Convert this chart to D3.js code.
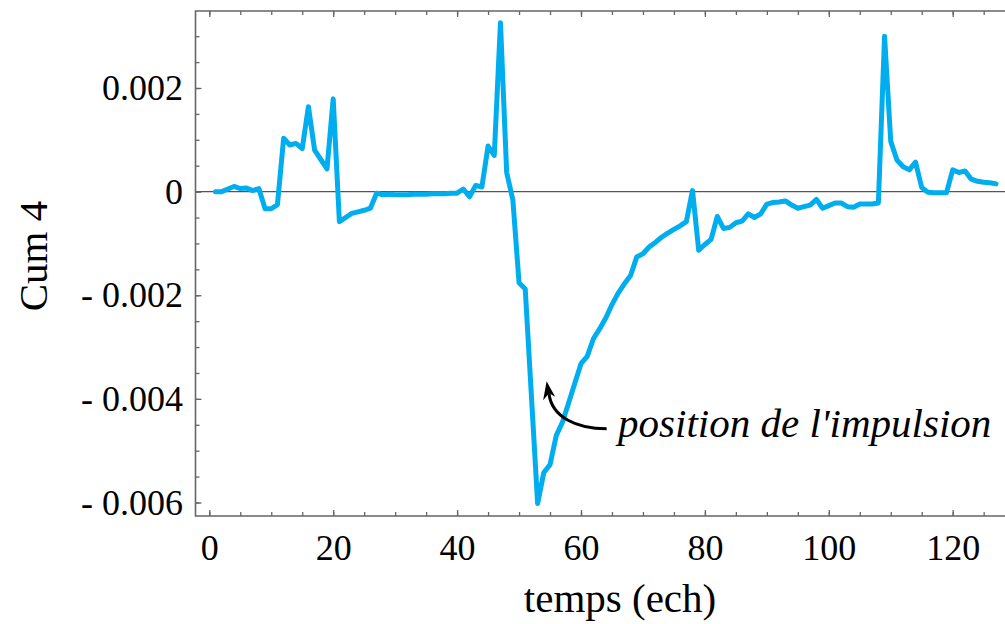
<!DOCTYPE html>
<html>
<head>
<meta charset="utf-8">
<script src="https://cdn.jsdelivr.net/npm/d3@7"></script>
<style>
  body { margin: 0; background: #fff; }
  svg text { font-family: "Liberation Serif", "DejaVu Serif", serif; fill: #000; }
</style>
</head>
<body>
<div id="chart"></div>
<script>
// sample index (ech)
var temps = d3.range(1, 128);

// 4th order cumulant
var cum4 = [
  0.00000, 0.00000, 0.00005, 0.00010, 0.00006, 0.00007, 0.00002, 0.00006, -0.00033, -0.00033,
  -0.00025, 0.00103, 0.00090, 0.00093, 0.00083, 0.00164, 0.00080, 0.00062, 0.00044, 0.00179,
  -0.00058, -0.00050, -0.00042, -0.00039, -0.00036, -0.00032, -0.00003, -0.00006, -0.00005, -0.00006,
  -0.00006, -0.00006, -0.00005, -0.00005, -0.00005, -0.00004, -0.00004, -0.00004, -0.00003, -0.00003,
  0.00005, -0.00010, 0.00012, 0.00009, 0.00088, 0.00070, 0.00326, 0.00037, -0.00016, -0.00176,
  -0.00188, -0.00395, -0.00602, -0.00542, -0.00527, -0.00471, -0.00445, -0.00408, -0.00370, -0.00332,
  -0.00318, -0.00284, -0.00265, -0.00244, -0.00218, -0.00196, -0.00178, -0.00162, -0.00126, -0.00120,
  -0.00107, -0.00098, -0.00088, -0.00080, -0.00073, -0.00066, -0.00058, 0.00002, -0.00113, -0.00102,
  -0.00092, -0.00048, -0.00071, -0.00069, -0.00060, -0.00057, -0.00043, -0.00050, -0.00043, -0.00024,
  -0.00021, -0.00020, -0.00018, -0.00026, -0.00032, -0.00029, -0.00026, -0.00015, -0.00032, -0.00027,
  -0.00022, -0.00022, -0.00029, -0.00030, -0.00024, -0.00024, -0.00024, -0.00022, 0.00300, 0.00097,
  0.00061, 0.00048, 0.00042, 0.00057, 0.00008, -0.00001, -0.00002, -0.00002, -0.00002, 0.00042,
  0.00037, 0.00040, 0.00024, 0.00020, 0.00018, 0.00017, 0.00015
];

var xTicks = [0, 20, 40, 60, 80, 100, 120];
var xMinorTicks = d3.range(0, 130, 5);
var yTicks = [0.002, 0, -0.002, -0.004, -0.006];
var yMinorTicks = d3.range(-0.006, 0.0031, 0.0005);

// annotation anchor (arrow tip) and label, in data units
var note = { text: "position de l'impulsion", tipX: 54.45, tipY: -0.00366, textX: 65.99, textY: -0.00473 };

var width = 1005, height = 624;
var frame = { left: 195.5, top: 11, right: 1012, bottom: 516 };

var svg = d3.select("#chart").append("svg")
  .attr("width", width)
  .attr("height", height);

var x = d3.scaleLinear().domain([0, 120]).range([209.3, 952.7]);
var y = d3.scaleLinear().domain([0.002, -0.006]).range([88, 502.5]);

var axisColor = "#666";

// zero line
svg.append("line")
  .attr("x1", frame.left).attr("x2", frame.right)
  .attr("y1", y(0)).attr("y2", y(0))
  .style("stroke", "#555")
  .style("stroke-width", 1.2);

// data line
var line = d3.line()
  .x(function (d, i) { return x(temps[i]); })
  .y(function (d) { return y(d); });

svg.append("path")
  .datum(cum4)
  .attr("d", line)
  .style("fill", "none")
  .style("stroke", "#00aeef")
  .style("stroke-width", 5)
  .style("stroke-linejoin", "round")
  .style("stroke-linecap", "round");

// frame
svg.append("path")
  .attr("d", "M" + frame.right + "," + frame.top + "H" + frame.left + "V" + frame.bottom + "H" + frame.right)
  .style("fill", "none")
  .style("stroke", axisColor)
  .style("stroke-width", 1.6);

function styleAxis(g) {
  g.select(".domain").remove();
  g.selectAll(".tick line").style("stroke", axisColor).style("stroke-width", 1.3);
}

// bottom axis
svg.append("g")
  .attr("transform", "translate(0," + frame.bottom + ")")
  .call(d3.axisBottom(x).tickValues(xMinorTicks).tickSize(-4).tickFormat(""))
  .call(styleAxis);
svg.append("g")
  .attr("transform", "translate(0," + frame.bottom + ")")
  .call(d3.axisBottom(x).tickValues(xTicks).tickSize(-6).tickPadding(18).tickFormat(d3.format("d")))
  .call(styleAxis)
  .call(function (g) {
    g.selectAll("text").style("font-size", "36px").style("font-family", "Liberation Serif").attr("fill", "#000");
  });

// top axis (ticks only)
svg.append("g")
  .attr("transform", "translate(0," + frame.top + ")")
  .call(d3.axisTop(x).tickValues(xMinorTicks).tickSize(-4).tickFormat(""))
  .call(styleAxis);
svg.append("g")
  .attr("transform", "translate(0," + frame.top + ")")
  .call(d3.axisTop(x).tickValues(xTicks).tickSize(-6).tickFormat(""))
  .call(styleAxis);

// left axis
svg.append("g")
  .attr("transform", "translate(" + frame.left + ",0)")
  .call(d3.axisLeft(y).tickValues(yMinorTicks).tickSize(-4).tickFormat(""))
  .call(styleAxis);
svg.append("g")
  .attr("transform", "translate(" + frame.left + ",0)")
  .call(d3.axisLeft(y).tickValues(yTicks).tickSize(-6).tickPadding(12.5)
    .tickFormat(function (d) {
      if (Math.abs(d) < 1e-12) return "0";
      return (d < 0 ? "- " : "") + Math.abs(d).toFixed(3);
    }))
  .call(styleAxis)
  .call(function (g) {
    g.selectAll("text").style("font-size", "36px").style("font-family", "Liberation Serif").attr("fill", "#000");
  });

// axis titles
svg.append("text")
  .attr("x", 620)
  .attr("y", 612)
  .attr("text-anchor", "middle")
  .style("font-size", "41px")
  .text("temps (ech)");

svg.append("text")
  .attr("transform", "translate(47,256) rotate(-90)")
  .attr("text-anchor", "middle")
  .style("font-size", "41px")
  .text("Cum 4");

// annotation
var tx = x(note.tipX), ty = y(note.tipY);
svg.append("path")
  .attr("d", "M" + (tx + 60) + "," + (ty + 47.5) +
    "C" + (tx + 30) + "," + (ty + 47.5) + " " + (tx + 5) + "," + (ty + 36) + " " + (tx + 2.3) + "," + (ty + 12))
  .style("fill", "none")
  .style("stroke", "#000")
  .style("stroke-width", 3);
svg.append("path")
  .attr("d", "M" + tx + "," + ty +
    "L" + (tx + 8.5) + "," + (ty + 15.5) +
    "L" + (tx + 2.5) + "," + (ty + 12) +
    "L" + (tx - 3.5) + "," + (ty + 19) + "Z")
  .style("fill", "#000");

svg.append("text")
  .attr("x", x(note.textX))
  .attr("y", y(note.textY))
  .style("font-size", "41px")
  .style("font-style", "italic")
  .text(note.text);
</script>
</body>
</html>
